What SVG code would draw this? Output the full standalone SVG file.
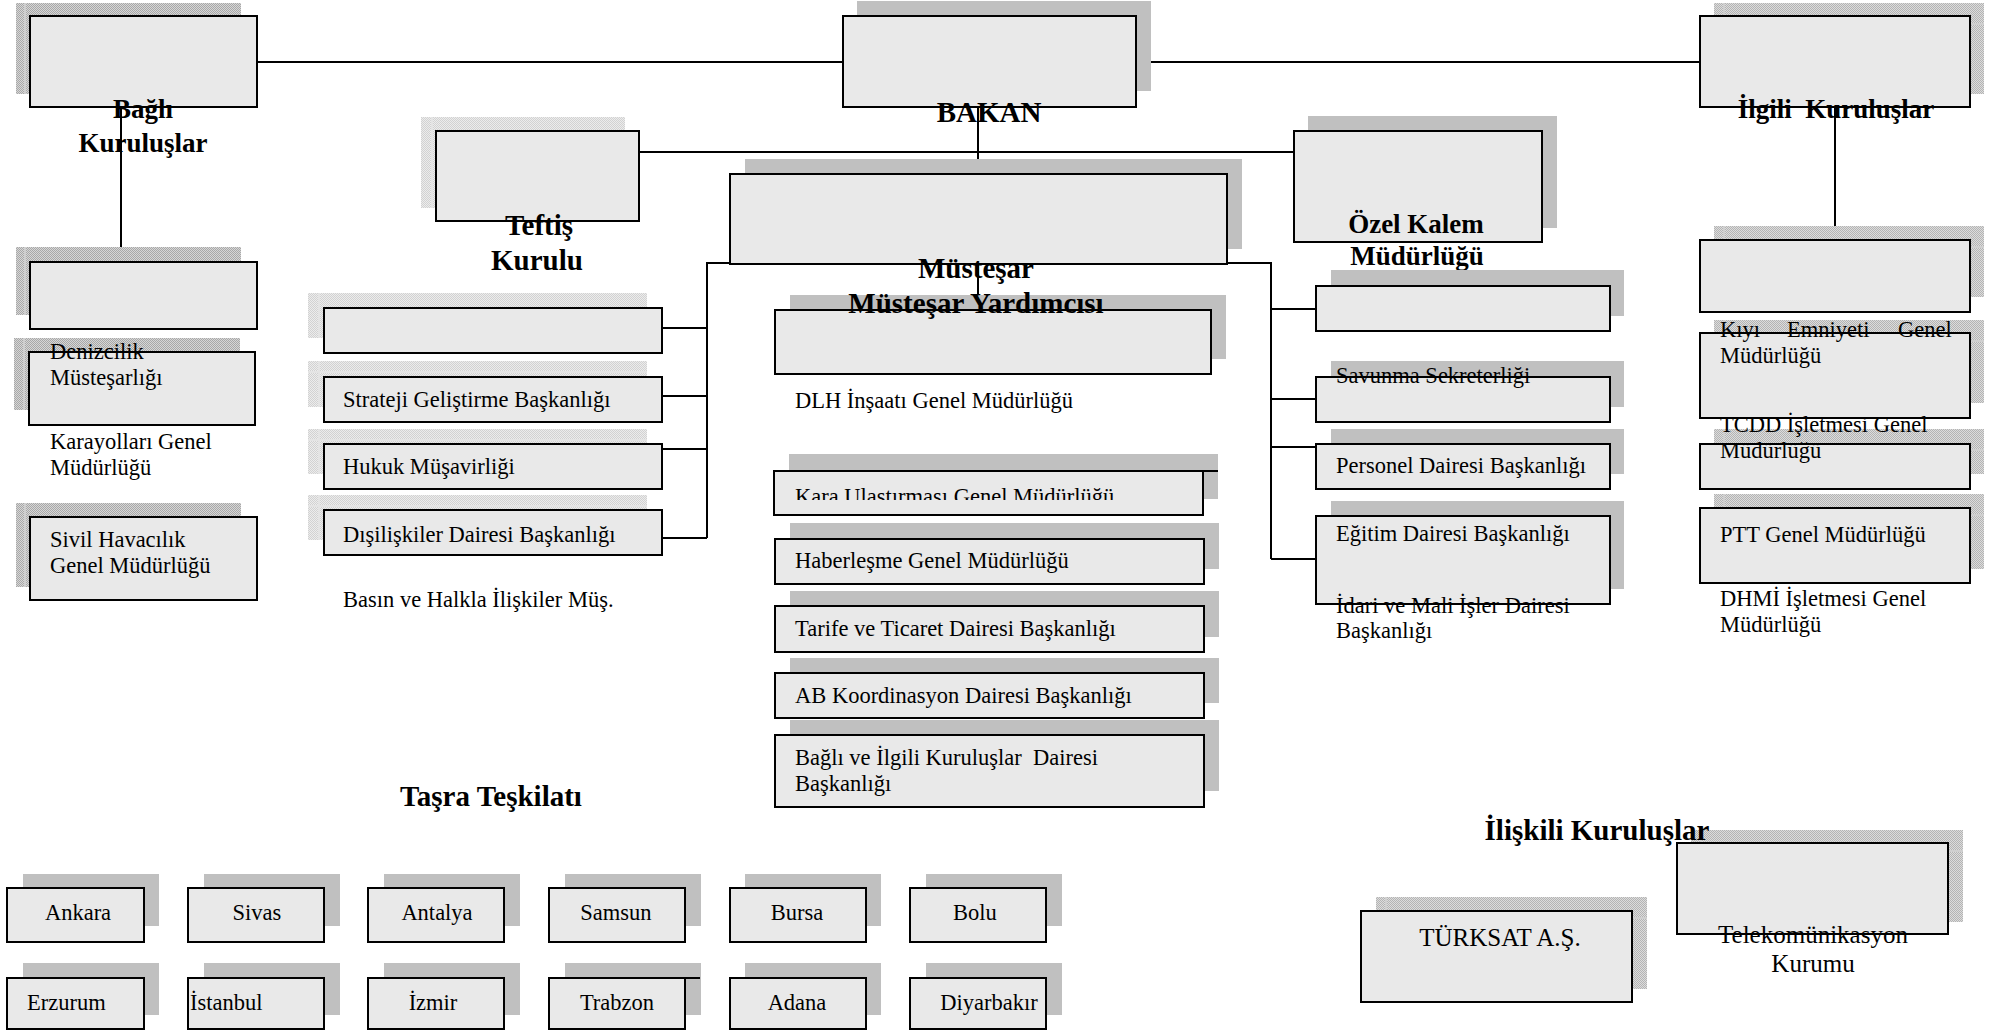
<svg xmlns="http://www.w3.org/2000/svg" width="1997" height="1031" viewBox="0 0 1997 1031">
<defs>
<pattern id="pd" width="2" height="2" patternUnits="userSpaceOnUse"><rect width="2" height="2" fill="#d6d6d6"/><rect width="1" height="1" fill="#a8a8a8"/><rect x="1" y="1" width="1" height="1" fill="#a8a8a8"/></pattern>
<pattern id="pm" width="2" height="2" patternUnits="userSpaceOnUse"><rect width="2" height="2" fill="#dcdcdc"/><rect width="1" height="1" fill="#b4b4b4"/><rect x="1" y="1" width="1" height="1" fill="#b4b4b4"/></pattern>
<pattern id="pl" width="2" height="2" patternUnits="userSpaceOnUse"><rect width="2" height="2" fill="#ececec"/><rect width="1" height="1" fill="#d2d2d2"/><rect x="1" y="1" width="1" height="1" fill="#d2d2d2"/></pattern>
<clipPath id="kc"><rect x="770" y="470" width="450" height="30"/></clipPath>
</defs>
<style>
.bx{fill:#e9e9e9;stroke:#000;stroke-width:2}
.sh{fill:#c0c0c0}
.sd{fill:url(#pd)}
.sm{fill:url(#pm)}
.sl{fill:url(#pl)}
.st{stroke:#cfcfcf;stroke-width:2;fill:none}
.stl{stroke:#e4e4e4;stroke-width:2;fill:none}
.ln{stroke:#000;stroke-width:2;fill:none}
text{font-family:"Liberation Serif","Times New Roman",serif;font-size:22.5px;fill:#000}
.b{font-weight:bold;font-size:29px}
.b27{font-weight:bold;font-size:27px}
.m{text-anchor:middle}
.s25{font-size:25px}
</style>
<rect width="1997" height="1031" fill="#fff"/>

<g id="connectors" class="ln">
<path d="M257 62H843M1136 62H1700M121 107V264M1835 107V241M978 107V174M639 152H1294M978 264V310"/>
<path d="M730 263H707V538M662 328H707M662 396H707M662 449H707M662 538H707"/>
<path d="M1227 263H1271V559M1271 309H1316M1271 399H1316M1271 447H1316M1271 559H1316"/>
</g>

<g id="n-bagli"><rect class="sd" x="16" y="3" width="225" height="91"/><path class="st" d="M25 3V94"/><rect class="bx" x="30" y="16" width="227" height="91"/><text class="b27 m" x="143" y="118">Bağlı</text><text class="b27 m" x="143" y="152">Kuruluşlar</text></g>
<g id="n-left2"><rect class="sd" x="16" y="247" width="225" height="68"/><path class="st" d="M25 247V315"/><rect class="bx" x="30" y="262" width="227" height="67"/></g>
<g id="n-denizcilik"><rect class="sd" x="14" y="338" width="226" height="72"/><path class="st" d="M24 338V410"/><rect class="bx" x="29" y="352" width="226" height="73"/><text x="50" y="359">Denizcilik</text><text x="50" y="385">Müsteşarlığı</text><text x="50" y="449">Karayolları Genel</text><text x="50" y="475">Müdürlüğü</text></g>
<g id="n-sivil"><rect class="sd" x="16" y="503" width="225" height="84"/><path class="st" d="M25 503V587"/><rect class="bx" x="30" y="517" width="227" height="83"/><text x="50" y="547">Sivil Havacılık</text><text x="50" y="573">Genel Müdürlüğü</text></g>

<g id="n-teftis"><rect class="sl" x="421" y="117" width="204" height="91"/><path class="stl" d="M432 117V208"/><rect class="bx" x="436" y="131" width="203" height="90"/><text class="b m" x="539" y="235">Teftiş</text><text class="b m" x="537" y="270">Kurulu</text></g>
<g id="n-ml1"><rect class="sl" x="308" y="293" width="339" height="45"/><path class="stl" d="M319 293V338"/><rect class="bx" x="324" y="308" width="338" height="45"/></g>
<g id="n-strateji"><rect class="sl" x="308" y="361" width="339" height="46"/><path class="stl" d="M319 361V407M308 372H647"/><rect class="bx" x="324" y="377" width="338" height="45"/><text x="343" y="407">Strateji Geliştirme Başkanlığı</text></g>
<g id="n-hukuk"><rect class="sl" x="308" y="429" width="339" height="45"/><path class="stl" d="M319 429V474M308 440H647"/><rect class="bx" x="324" y="444" width="338" height="45"/><text x="343" y="474">Hukuk Müşavirliği</text></g>
<g id="n-disiliskiler"><rect class="sl" x="308" y="495" width="339" height="45"/><path class="stl" d="M319 495V540M308 506H647"/><rect class="bx" x="324" y="510" width="338" height="45"/><text x="343" y="542">Dışilişkiler Dairesi Başkanlığı</text><text x="343" y="607">Basın ve Halkla İlişkiler Müş.</text></g>

<g id="n-bakan"><rect class="sh" x="857" y="1" width="294" height="90"/><rect class="bx" x="843" y="16" width="293" height="91"/><text class="b m" x="989" y="122">BAKAN</text></g>
<g id="n-dlh"><rect class="sh" x="790" y="295" width="436" height="64"/><rect class="bx" x="775" y="310" width="436" height="64"/><text x="795" y="408">DLH İnşaatı Genel Müdürlüğü</text></g>
<g id="n-mustesar"><rect class="sh" x="745" y="159" width="497" height="90"/><rect class="bx" x="730" y="174" width="497" height="90"/><text class="b m" x="976" y="278">Müsteşar</text><text class="b m" x="976" y="313">Müsteşar Yardımcısı</text></g>
<g id="n-kara"><rect class="sh" x="789" y="454" width="429" height="45"/><rect class="bx" x="774" y="471" width="429" height="44"/><path class="ln" d="M1203 471H1218"/><text x="795" y="504" clip-path="url(#kc)">Kara Ulaştırması Genel Müdürlüğü</text></g>
<g id="n-haber"><rect class="sh" x="790" y="523" width="429" height="46"/><rect class="bx" x="775" y="539" width="429" height="45"/><text x="795" y="568">Haberleşme Genel Müdürlüğü</text></g>
<g id="n-tarife"><rect class="sh" x="790" y="591" width="429" height="46"/><rect class="bx" x="775" y="606" width="429" height="46"/><text x="795" y="636">Tarife ve Ticaret Dairesi Başkanlığı</text></g>
<g id="n-ab"><rect class="sh" x="790" y="658" width="429" height="45"/><rect class="bx" x="775" y="673" width="429" height="45"/><text x="795" y="703">AB Koordinasyon Dairesi Başkanlığı</text></g>
<g id="n-bagli-ilgili"><rect class="sh" x="790" y="720" width="429" height="71"/><rect class="bx" x="775" y="735" width="429" height="72"/><text x="795" y="765" xml:space="preserve">Bağlı ve İlgili Kuruluşlar  Dairesi</text><text x="795" y="791">Başkanlığı</text></g>

<g id="n-ozel"><rect class="sh" x="1308" y="116" width="249" height="112"/><rect class="bx" x="1294" y="131" width="248" height="111"/><text class="b27 m" x="1416" y="233">Özel Kalem</text><text class="b27 m" x="1417" y="265">Müdürlüğü</text></g>
<g id="n-r1"><rect class="sh" x="1331" y="270" width="293" height="46"/><rect class="bx" x="1316" y="286" width="294" height="45"/></g>
<g id="n-savunma"><rect class="sh" x="1331" y="361" width="293" height="46"/><rect class="bx" x="1316" y="377" width="294" height="45"/><text x="1336" y="383">Savunma Sekreterliği</text></g>
<g id="n-personel"><rect class="sh" x="1331" y="429" width="293" height="45"/><rect class="bx" x="1316" y="444" width="294" height="45"/><text x="1336" y="473">Personel Dairesi Başkanlığı</text></g>
<g id="n-egitim"><rect class="sh" x="1331" y="501" width="293" height="88"/><rect class="bx" x="1316" y="516" width="294" height="88"/><text x="1336" y="541">Eğitim Dairesi Başkanlığı</text><text x="1336" y="613">İdari ve Mali İşler Dairesi</text><text x="1336" y="638">Başkanlığı</text></g>

<g id="n-ilgili"><rect class="sm" x="1714" y="3" width="270" height="91"/><path class="st" d="M1724 3V16M1970 24H1984"/><rect class="bx" x="1700" y="16" width="270" height="91"/><text class="b27 m" x="1836" y="118" xml:space="preserve">İlgili  Kuruluşlar</text></g>
<g id="n-r2"><rect class="sm" x="1714" y="226" width="270" height="71"/><path class="st" d="M1724 226V240M1970 247H1984"/><rect class="bx" x="1700" y="240" width="270" height="72"/></g>
<g id="n-kiyi"><rect class="sm" x="1714" y="320" width="270" height="83"/><path class="st" d="M1724 320V333M1970 341H1984"/><rect class="bx" x="1700" y="333" width="270" height="85"/><text y="337"><tspan x="1720">Kıyı</tspan><tspan x="1787">Emniyeti</tspan><tspan x="1898">Genel</tspan></text><text x="1720" y="363">Müdürlüğü</text></g>
<g id="n-tcdd"><rect class="sm" x="1714" y="429" width="270" height="45"/><path class="st" d="M1724 429V444M1970 450H1984"/><rect class="bx" x="1700" y="444" width="270" height="45"/><text x="1720" y="432">TCDD İşletmesi Genel</text><text x="1720" y="458">Müdürlüğü</text></g>
<g id="n-ptt"><rect class="sm" x="1714" y="494" width="270" height="75"/><path class="st" d="M1724 494V508M1970 515H1984"/><rect class="bx" x="1700" y="508" width="270" height="75"/><text x="1720" y="542">PTT Genel Müdürlüğü</text><text x="1720" y="606">DHMİ İşletmesi Genel</text><text x="1720" y="632">Müdürlüğü</text></g>

<g id="n-tasra-title"><text class="b m" x="491" y="806">Taşra Teşkilatı</text></g>
<g id="n-ankara"><rect class="sh" x="23" y="874" width="136" height="52"/><rect class="bx" x="7" y="888" width="137" height="54"/><text class="m" x="78" y="920">Ankara</text></g>
<g id="n-sivas"><rect class="sh" x="204" y="874" width="136" height="52"/><rect class="bx" x="188" y="888" width="136" height="54"/><text class="m" x="257" y="920">Sivas</text></g>
<g id="n-antalya"><rect class="sh" x="384" y="874" width="136" height="52"/><rect class="bx" x="368" y="888" width="136" height="54"/><text class="m" x="437" y="920">Antalya</text></g>
<g id="n-samsun"><rect class="sh" x="565" y="874" width="136" height="52"/><rect class="bx" x="549" y="888" width="136" height="54"/><text class="m" x="616" y="920">Samsun</text></g>
<g id="n-bursa"><rect class="sh" x="745" y="874" width="136" height="52"/><rect class="bx" x="730" y="888" width="136" height="54"/><text class="m" x="797" y="920">Bursa</text></g>
<g id="n-bolu"><rect class="sh" x="926" y="874" width="136" height="52"/><rect class="bx" x="910" y="888" width="136" height="54"/><text class="m" x="975" y="920">Bolu</text></g>
<g id="n-erzurum"><rect class="sh" x="23" y="963" width="136" height="52"/><rect class="bx" x="7" y="978" width="137" height="51"/><text x="27" y="1010">Erzurum</text></g>
<g id="n-istanbul"><rect class="sh" x="204" y="963" width="136" height="52"/><rect class="bx" x="188" y="978" width="136" height="51"/><text x="190" y="1010">İstanbul</text></g>
<g id="n-izmir"><rect class="sh" x="384" y="963" width="136" height="52"/><rect class="bx" x="368" y="978" width="136" height="51"/><text class="m" x="433" y="1010">İzmir</text></g>
<g id="n-trabzon"><rect class="sh" x="565" y="963" width="136" height="52"/><rect class="bx" x="549" y="978" width="136" height="51"/><path class="ln" d="M685 978H700"/><text class="m" x="617" y="1010">Trabzon</text></g>
<g id="n-adana"><rect class="sh" x="745" y="963" width="136" height="52"/><rect class="bx" x="730" y="978" width="136" height="51"/><text class="m" x="797" y="1010">Adana</text></g>
<g id="n-diyarbakir"><rect class="sh" x="926" y="963" width="136" height="52"/><rect class="bx" x="910" y="978" width="136" height="51"/><text class="m" x="989" y="1010">Diyarbakır</text></g>

<g id="n-telekom"><rect class="sm" x="1691" y="830" width="272" height="92"/><path class="st" d="M1701 830V843M1948 851H1963"/><rect class="bx" x="1677" y="843" width="271" height="91"/><text class="m s25" x="1813" y="943">Telekomünikasyon</text><text class="m s25" x="1813" y="972">Kurumu</text></g>
<g id="n-turksat"><rect class="sm" x="1376" y="897" width="271" height="92"/><path class="st" d="M1386 897V911M1632 918H1647"/><rect class="bx" x="1361" y="911" width="271" height="91"/><text class="m s25" x="1500" y="946">TÜRKSAT A.Ş.</text></g>
<g id="n-iliskili-title"><text class="b m" x="1597" y="840">İlişkili Kuruluşlar</text></g>
</svg>
